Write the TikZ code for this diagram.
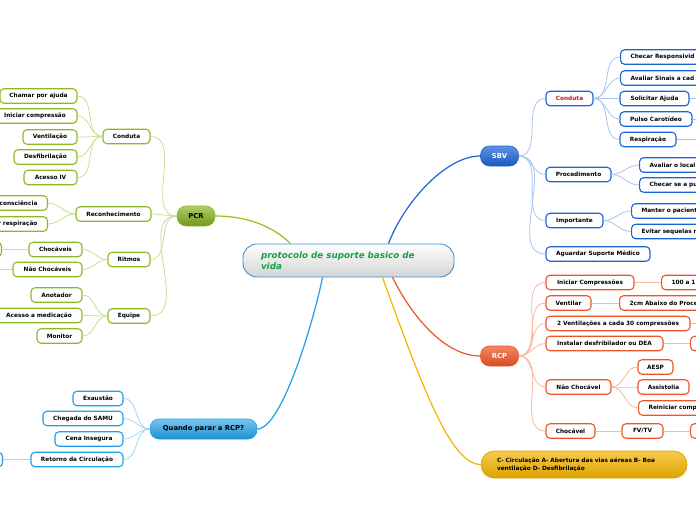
\documentclass[tikz,border=0pt]{standalone}
\usepackage{fontspec}
\setmainfont{DejaVu Sans}
\definecolor{cgreen}{HTML}{8DBA24}
\definecolor{cgreenl}{HTML}{C8E096}
\definecolor{cgreenm}{HTML}{8DC21F}
\definecolor{cblue}{HTML}{1C63D6}
\definecolor{cbluel}{HTML}{A7C6F2}
\definecolor{corange}{HTML}{EE5426}
\definecolor{corangel}{HTML}{F9B6A0}
\definecolor{clblue}{HTML}{1E9FE8}
\definecolor{clbluel}{HTML}{A2D8F6}
\definecolor{croot}{HTML}{3A93DA}
\definecolor{crtext}{HTML}{18A048}
\definecolor{cred}{HTML}{D0102E}
\definecolor{cyellow}{HTML}{F5B400}
\begin{document}
\begin{tikzpicture}[x=1pt,y=-1pt,
  box/.style={draw, line width=1.1pt, rounded corners=4pt, fill=white,
    minimum height=14.5pt, inner sep=0pt, text=black,
    font=\fontsize{5.8}{7}\selectfont\bfseries},
  gbox/.style={box, draw=cgreen},
  bbox/.style={box, draw=cblue},
  obox/.style={box, draw=corange},
  lbbox/.style={box, draw=clblue},
  cutr/.style={anchor=west, text width=90pt, align=left, inner xsep=10pt},
  cutl/.style={anchor=east, text width=90pt, align=right, inner xsep=10pt},
  mainbox/.style={draw, line width=0.6pt, rounded corners=9pt, minimum width=38pt,
    minimum height=20pt, inner sep=0pt, font=\fontsize{6.8}{8}\selectfont\bfseries},
  gcon/.style={draw=cgreenl, line width=0.8pt},
  bcon/.style={draw=cbluel, line width=0.8pt},
  ocon/.style={draw=corangel, line width=0.8pt},
  lbcon/.style={draw=clbluel, line width=0.8pt},
  mcon/.style={line width=1.2pt}
]
\useasboundingbox (0,0) rectangle (696,520);
\clip (0,0) rectangle (696,520);
\fill[white] (0,0) rectangle (696,520);

% ---------- root ----------
\node[draw=croot, line width=0.9pt, rounded corners=14pt, top color=white, bottom color=black!17,
  minimum width=211pt, minimum height=33pt, inner xsep=18pt, inner ysep=0pt, text width=175pt, align=left,
  text=crtext, font=\fontsize{8.8}{11}\selectfont\bfseries\itshape] (root) at (348.5,260.5)
  {protocolo de suporte basico de\\vida};

% ---------- main nodes ----------
\node[mainbox, draw=black!0!cgreen, top color=cgreen!70!white, bottom color=cgreen!80!black, text=black] (pcr) at (196,216) {PCR};
\node[mainbox, draw=clblue, top color=clblue!60!white, bottom color=clblue!90!black, minimum width=107pt, text=black] (qp) at (203.5,429) {Quando parar a RCP?};
\node[mainbox, draw=cblue, top color=cblue!70!white, bottom color=cblue!90!black, text=white] (sbv) at (499.5,156) {SBV};
\node[mainbox, draw=corange, top color=corange!70!white, bottom color=corange!90!black, text=white] (rcp) at (499.5,356) {RCP};
\node[draw=cyellow!90!black, line width=0.6pt, rounded corners=13pt, top color=cyellow!70!white, bottom color=cyellow!90!black,
  minimum width=206pt, minimum height=27pt, inner xsep=16pt, inner ysep=0pt, text width=174pt, align=left,
  font=\fontsize{5.8}{8.5}\selectfont\bfseries] (cb) at (584,464.5)
  {C- Circulação A- Abertura das vias aéreas B- Boa\\ventilação D- Desfibrilação};

% ---------- main connectors ----------
\draw[mcon, cgreenm] (pcr.east) .. controls +(35,0) and +(-15,-15) .. ([xshift=-58pt]root.north);
\draw[mcon, clblue] (qp.east) .. controls +(25,0) and +(-8,40) .. ([xshift=-26pt]root.south);
\draw[mcon, cblue] ([xshift=40pt]root.north) .. controls +(15,-40) and +(-35,0) .. (sbv.west);
\draw[mcon, corange] ([xshift=44pt]root.south) .. controls +(20,40) and +(-35,0) .. (rcp.west);
\draw[mcon, cyellow] ([xshift=34pt]root.south) .. controls +(40,110) and +(-30,0) .. (cb.west);

% ---------- PCR branch ----------
\node[gbox, minimum width=47pt] (lc) at (126.5,136.5) {Conduta};
\node[gbox, minimum width=77pt] (l1) at (38.5,96) {Chamar por ajuda};
\node[gbox, minimum width=84pt] (l2) at (35,116) {Iniciar compressão};
\node[gbox, minimum width=54pt] (l3) at (50,137) {Ventilação};
\node[gbox, minimum width=63pt] (l4) at (45.5,157) {Desfibrilação};
\node[gbox, minimum width=53pt] (l5) at (50.5,177.5) {Acesso IV};
\node[gbox, minimum width=75pt] (lr) at (113.5,214) {Reconhecimento};
\node[gbox, cutl] (lr1) at (48,203) {consciência};
\node[gbox, cutl] (lr2) at (48,224) {r respiração};
\node[gbox, minimum width=42pt] (lt) at (129,259.5) {Ritmos};
\node[gbox, minimum width=53pt] (lt1) at (55.5,249.5) {Chocáveis};
\node[gbox, cutl] (lt1a) at (2,249.5) {};
\node[gbox, minimum width=69pt] (lt2) at (47.5,269.5) {Não Chocáveis};
\coordinate (lt2a) at (-20,269.5);
\node[gbox, minimum width=42pt] (le) at (129,316) {Equipe};
\node[gbox, minimum width=51pt] (le1) at (56.5,295) {Anotador};
\node[gbox, minimum width=86pt] (le2) at (39,315.5) {Acesso a medicação};
\node[gbox, minimum width=45pt] (le3) at (59.5,336) {Monitor};

\foreach \c in {lc,lr,lt,le} \draw[gcon] (pcr.west) to[out=180,in=0] (\c.east);
\foreach \c in {l1,l2,l3,l4,l5} \draw[gcon] (lc.west) to[out=180,in=0] (\c.east);
\foreach \c in {lr1,lr2} \draw[gcon] (lr.west) to[out=180,in=0] (\c.east);
\foreach \c in {lt1,lt2} \draw[gcon] (lt.west) to[out=180,in=0] (\c.east);
\foreach \c in {le1,le2,le3} \draw[gcon] (le.west) to[out=180,in=0] (\c.east);
\draw[gcon] (lt1.west) -- (lt1a.east);
\draw[gcon] (lt2.west) -- (lt2a);

% ---------- Quando parar branch ----------
\node[lbbox, minimum width=50pt] (q1) at (98,398.5) {Exaustão};
\node[lbbox, minimum width=80pt] (q2) at (83,418.5) {Chegada do SAMU};
\node[lbbox, minimum width=68pt] (q3) at (89,439) {Cena Insegura};
\node[lbbox, minimum width=92pt] (q4) at (77,459.5) {Retorno da Circulação};
\node[lbbox, cutl] (q4a) at (3,459.5) {};
\foreach \c in {q1,q2,q3,q4} \draw[lbcon] (qp.west) to[out=180,in=0] (\c.east);
\draw[lbcon] (q4.west) -- (q4a.east);

% ---------- SBV branch ----------
\node[bbox, minimum width=47pt, text=cred] (s1) at (569.5,98.5) {Conduta};
\node[bbox, cutr] (s11) at (620,57) {Checar Responsivid};
\node[bbox, cutr] (s12) at (620,78) {Avaliar Sinais a cad};
\node[bbox, minimum width=69pt] (s13) at (654.5,98.5) {Solicitar Ajuda};
\node[bbox, minimum width=72pt] (s14) at (656,119) {Pulso Carotídeo};
\node[bbox, minimum width=56pt] (s15) at (648,139.5) {Respiração};
\node[bbox, minimum width=65pt] (s2) at (578.5,174.5) {Procedimento};
\node[bbox, cutr] (s21) at (639,165) {Avaliar o local};
\node[bbox, cutr] (s22) at (639,185) {Checar se a pu};
\node[bbox, minimum width=57pt] (s3) at (574.5,220.5) {Importante};
\node[bbox, cutr] (s31) at (631,211) {Manter o pacient};
\node[bbox, cutr] (s32) at (631,231.5) {Evitar sequelas n};
\node[bbox, minimum width=104pt] (s4) at (598,254) {Aguardar Suporte Médico};
\foreach \c in {s1,s2,s3,s4} \draw[bcon] (sbv.east) to[out=0,in=180] (\c.west);
\foreach \c in {s11,s12,s13,s14,s15} \draw[bcon] (s1.east) to[out=0,in=180] (\c.west);
\foreach \c in {s21,s22} \draw[bcon] (s2.east) to[out=0,in=180] (\c.west);
\foreach \c in {s31,s32} \draw[bcon] (s3.east) to[out=0,in=180] (\c.west);
\coordinate (s13x) at (720,98.5);
\coordinate (s14x) at (720,119);
\coordinate (s15x) at (720,139.5);
\draw[bcon] (s13.east) -- (s13x);
\draw[bcon] (s14.east) -- (s14x);
\draw[bcon] (s15.east) -- (s15x);

% ---------- RCP branch ----------
\node[obox, minimum width=88pt] (r1) at (590,282.5) {Iniciar Compressões};
\node[obox, cutr] (r11) at (661,282.5) {100 a 1};
\node[obox, minimum width=45pt] (r2) at (568.5,303) {Ventilar};
\node[obox, cutr] (r21) at (619,303) {2cm Abaixo do Proce};
\node[obox, minimum width=144pt] (r3) at (618,323.5) {2 Ventilações a cada 30 compressões};
\node[obox, minimum width=117pt] (r4) at (604.5,343.5) {Instalar desfribilador ou DEA};
\node[obox, cutr] (r41) at (690,343.5) {};
\node[obox, minimum width=65pt] (r5) at (578.5,387) {Não Chocável};
\node[obox, minimum width=35pt] (r51) at (655.5,367) {AESP};
\node[obox, minimum width=51pt] (r52) at (663.5,387) {Assistolia};
\node[obox, cutr] (r53) at (638,408) {Reiniciar comp};
\node[obox, minimum width=49pt] (r6) at (570.5,431) {Chocável};
\node[obox, minimum width=41pt] (r61) at (642.5,431) {FV/TV};
\node[obox, cutr] (r611) at (690,431) {};
\foreach \c in {r1,r2,r3,r4,r5,r6} \draw[ocon] (rcp.east) to[out=0,in=180] (\c.west);
\foreach \c in {r51,r52,r53} \draw[ocon] (r5.east) to[out=0,in=180] (\c.west);
\draw[ocon] (r1.east) -- (r11.west);
\draw[ocon] (r2.east) -- (r21.west);
\draw[ocon] (r4.east) -- (r41.west);
\draw[ocon] (r6.east) -- (r61.west);
\draw[ocon] (r61.east) -- (r611.west);
\coordinate (r3x) at (720,323.5);
\draw[ocon] (r3.east) -- (r3x);
\end{tikzpicture}
\end{document}
